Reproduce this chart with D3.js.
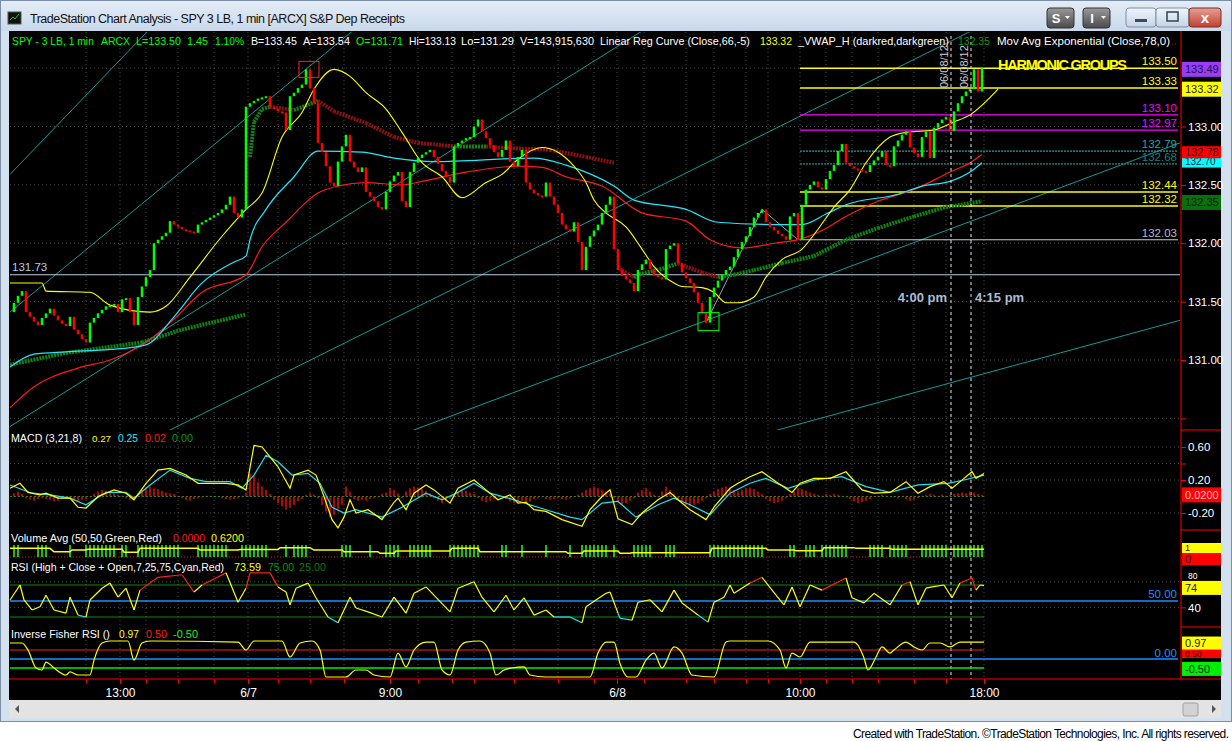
<!DOCTYPE html>
<html><head><meta charset="utf-8">
<script src="https://cdn.jsdelivr.net/npm/d3@7"></script>
<style>
html,body{margin:0;padding:0;background:#fff;overflow:hidden}
svg{display:block}
text{font-family:"Liberation Sans",Arial,sans-serif}
</style></head><body>
<svg id="c" width="1232" height="741"></svg>
<script>
// ================= DATA =================
// 3-line-break closes, one per bar (bar index = position in array)
const closes = [
131.49,131.55,131.59,131.41,131.37,131.33,131.30,131.36,131.40,131.44,
131.38,131.34,131.31,131.29,131.37,131.26,131.22,131.18,131.15,131.32,
131.36,131.40,131.43,131.46,131.47,131.48,131.41,131.52,131.53,131.41,
131.30,131.54,131.63,131.71,131.77,132.00,132.03,132.06,132.09,132.19,
132.16,132.14,132.12,132.11,132.10,132.09,132.16,132.18,132.20,132.22,
132.24,132.26,132.29,132.33,132.40,132.26,132.22,132.29,133.17,133.20,
133.22,133.24,133.25,133.26,133.17,133.15,133.13,133.12,132.97,133.26,
133.29,133.33,133.36,133.49,133.33,133.20,132.86,132.78,132.66,132.52,
132.49,132.70,132.83,132.93,132.70,132.65,132.61,132.65,132.44,132.40,
132.36,132.31,132.29,132.44,132.53,132.58,132.61,132.36,132.31,132.61,
132.69,132.73,132.76,132.78,132.80,132.74,132.68,132.62,132.57,132.52,
132.83,132.86,132.88,132.90,132.91,133.00,133.06,132.96,132.90,132.84,
132.78,132.74,132.80,132.88,132.70,132.66,132.74,132.80,132.52,132.46,
132.43,132.41,132.40,132.52,132.40,132.33,132.26,132.16,132.12,132.10,
132.18,132.01,131.77,131.97,132.06,132.11,132.16,132.26,132.33,132.40,
131.95,131.77,131.72,131.69,131.66,131.59,131.77,131.82,131.86,131.78,
131.73,131.71,131.69,131.95,131.98,132.00,131.83,131.75,131.70,131.66,
131.58,131.49,131.40,131.32,131.54,131.62,131.68,131.73,131.77,131.80,
131.88,131.95,132.01,132.06,132.14,132.22,132.26,132.29,132.18,132.14,
132.11,132.08,132.06,132.03,132.23,132.26,132.03,132.33,132.46,132.50,
132.53,132.48,132.46,132.55,132.62,132.67,132.79,132.85,132.69,132.66,
132.64,132.63,132.62,132.61,132.67,132.71,132.74,132.79,132.67,132.66,
132.83,132.88,132.93,132.96,132.82,132.77,132.74,132.91,132.96,132.73,
132.99,133.03,133.06,133.08,132.96,133.13,133.20,133.26,133.30,133.32,
133.49,133.30,133.50];
const firstOpen = 131.41;

// indicator curves on the price panel: [bar, price]
const linRegPts = [[-1,131.66],[7,131.66],[8,131.59],[19,131.58],[24,131.47],[34,131.41],[38,131.46],[44,131.71],[52,132.06],[58,132.29],[62,132.43],[67,132.91],[72,133.12],[75,133.32],[80,133.49],[84,133.43],[88,133.29],[93,133.15],[97,132.95],[102,132.69],[107,132.57],[112,132.39],[118,132.52],[122,132.59],[126,132.72],[132,132.82],[136,132.78],[140,132.66],[143,132.52],[145,132.37],[148,132.26],[153,132.14],[157,131.95],[160,131.80],[165,131.66],[167,131.63],[172,131.62],[175,131.58],[178,131.49],[181,131.49],[185,131.54],[188,131.71],[192,131.86],[197,131.95],[201,132.12],[205,132.31],[209,132.46],[213,132.69],[219,132.91],[223,132.95],[230,132.97],[235,133.04],[239,133.10],[246,133.32]];
const cyanAvgPts = [[-1,130.94],[5,131.05],[13,131.07],[24,131.09],[33,131.13],[40,131.37],[47,131.66],[55,131.84],[58,131.89],[59,132.03],[63,132.29],[70,132.57],[76,132.79],[87,132.78],[95,132.73],[105,132.70],[130,132.73],[138,132.67],[150,132.49],[155,132.37],[168,132.29],[176,132.18],[192,132.16],[197,132.16],[203,132.25],[208,132.33],[221,132.42],[227,132.49],[234,132.53],[239,132.61],[242,132.69]];
const emaPts = [[-1,130.59],[5,130.77],[16,130.93],[24,131.00],[33,131.15],[40,131.35],[47,131.58],[58,131.73],[62,131.97],[68,132.18],[76,132.43],[81,132.49],[88,132.52],[97,132.50],[102,132.53],[113,132.61],[126,132.66],[132,132.65],[138,132.57],[147,132.49],[157,132.26],[168,132.19],[174,132.03],[182,131.96],[190,132.00],[197,132.04],[202,132.11],[208,132.23],[216,132.36],[225,132.46],[234,132.61],[239,132.69],[242,132.76]];
const vwapDay1 = [[-1,130.96],[13,131.06],[32,131.15],[42,131.26],[58,131.39]];
const vwapDay2 = [[59,132.74],[60,133.04],[62,133.15],[64,133.17],[70,133.14],[76,133.22],[80,133.13],[88,133.03],[95,132.91],[101,132.86],[110,132.83],[118,132.83],[121,132.82],[134,132.80],[143,132.74],[150,132.69]];
const vwapDay3 = [[151,131.80],[152,131.77],[155,131.71],[157,131.74],[163,131.79],[166,131.83],[168,131.80],[172,131.75],[176,131.71],[180,131.73],[185,131.77],[192,131.83],[200,131.89],[208,132.03],[216,132.13],[225,132.23],[233,132.31],[242,132.36]];
const zigzagPts = [[173,131.32],[187,132.29],[196,132.03]];
// trend lines: two measured points each [bar, price]
const trendLines = [
  [[-1,132.59],[29,133.66]],
  [[-1,131.41],[79,133.66]],
  [[-1,130.43],[117,132.96]],
  [[39,130.40],[230,133.66]],
  [[101.5,130.42],[291.5,132.86]],
  [[193,130.42],[291.5,131.34]]
];
const levelPrices = [133.50,133.33,133.10,132.97,132.79,132.68,132.44,132.32,132.03];
const levelStartBar = 196.5;
const refPrice = 131.73;
const priceTicks = [131.00,131.50,132.00,132.50,133.00];
const priceGrid = [130.50,131.00,131.50,132.00,132.50,133.00,133.50];
const lastTags = ["133.49","133.32","132.70","132.78","132.35"];
const peakBar = 73, lowBar = 173;
const sessionMarks = [234.25,239.25];
const sessionLabels = ["4:00 pm","4:15 pm"];
const sessionDate = "06/08/12";

// x axis
const xMajorBars = [26.5,58.5,94,150.75,196.5,242.5];
const xMajorLabels = ["13:00","6/7","9:00","6/8","10:00","18:00"];
const xMinorBars = [18,33,41,50,66,74,82.5,101,109.5,115,125,136,145,157.5,168,175,183,188.5,203,209.5,216,225,233];

// MACD
const macdPts = [[-1,0.10],[1.5,0.16],[3.5,0.05],[6.5,0.02],[8,0.04],[11,-0.02],[14,-0.02],[16,-0.13],[18,-0.14],[21,0.0],[25,0.08],[28,0.04],[30,-0.04],[33,0.16],[36,0.32],[39,0.34],[43,0.26],[46,0.16],[53,0.16],[56,0.14],[58,0.08],[60,0.62],[62,0.60],[64,0.48],[66,0.36],[69,0.10],[70,0.26],[73.5,0.32],[75.5,0.26],[77.5,0.0],[79.5,-0.28],[81,-0.38],[82.5,-0.25],[84,-0.04],[85.5,-0.20],[88.5,-0.16],[92,-0.28],[95,-0.07],[96,-0.02],[98,-0.16],[100,0.04],[103,0.14],[105,0.08],[109,-0.08],[111,0.10],[115,0.20],[118,0.08],[121,-0.04],[124,0.02],[126,-0.08],[128,-0.07],[130,-0.16],[133,-0.18],[137,-0.28],[142,-0.36],[144,-0.16],[147,0.0],[149,0.08],[151,-0.27],[154.5,-0.34],[157,-0.20],[161,-0.04],[164,0.05],[166,-0.04],[169,-0.16],[173,-0.28],[175,-0.13],[179,0.10],[181,0.16],[184,0.24],[187,0.30],[190.5,0.18],[194.5,0.05],[196.5,0.16],[200,0.22],[204,0.22],[208,0.30],[212,0.08],[215,0.04],[219,0.05],[223,0.18],[226,0.04],[229,0.12],[232.5,0.18],[234.5,0.10],[237.5,0.22],[239.5,0.30],[240.5,0.22],[242.5,0.28]];
const macdSignalPts = [[-1,0.14],[4.5,0.04],[9,0.02],[14,-0.02],[18,-0.10],[23,0.05],[28,0.05],[30,-0.02],[34,0.14],[39,0.32],[44,0.22],[48,0.18],[54,0.18],[57,0.10],[60,0.26],[63,0.50],[66,0.42],[69.5,0.26],[73.5,0.28],[76.5,0.16],[79.5,-0.13],[82.5,-0.20],[85.5,-0.16],[92,-0.25],[97,-0.13],[103,0.04],[107,-0.04],[111,0.05],[115,0.16],[119,0.04],[125,-0.04],[133,-0.16],[139,-0.25],[142,-0.28],[147,-0.08],[151,-0.06],[155.5,-0.25],[161,-0.10],[165,-0.02],[169,-0.10],[174,-0.22],[179,0.04],[184,0.16],[188,0.22],[193.5,0.10],[200,0.20],[207,0.24],[213,0.12],[219,0.05],[226,0.14],[233.5,0.16],[237.5,0.20],[242.5,0.26]];
const macdHistBlocks = [
 [0,[0.04,0.06,0.03]],[3,[-0.02,-0.04,-0.05,-0.03,-0.02]],[8,[-0.03,-0.04,-0.06,-0.05,-0.03]],
 [13,[-0.02,-0.03,-0.05,-0.06,-0.04,-0.03,-0.01]],[20,[0.03,0.06,0.08,0.07,0.05,0.04]],
 [26,[0.02,0.01,-0.02,-0.04,-0.03]],[31,[0.04,0.08,0.11,0.12,0.10,0.09,0.07,0.05,0.04,0.03]],
 [41,[0.01,-0.02,-0.04,-0.05,-0.03,-0.02,-0.01]],[48,[0.01,0.01,0.00,-0.01,-0.02,-0.03,-0.04,-0.03]],
 [56,[-0.02,-0.01,0.05]],[59,[0.28,0.25,0.18,0.12,0.08]],
 [64,[0.03,-0.04,-0.08,-0.12,-0.16,-0.14,-0.10,-0.06,-0.03]],[73,[0.02,0.04,0.02,-0.02]],
 [77,[-0.10,-0.18,-0.25,-0.22,-0.15,-0.10]],[83,[0.12,0.06,-0.03,-0.05]],
 [87,[-0.04,-0.05,-0.03,-0.02,-0.01,0.03,0.05]],[94,[0.10,0.08,0.04,-0.02]],
 [98,[0.06,0.10,0.12,0.11,0.09,0.07,0.04]],[105,[-0.02,-0.05,-0.08,-0.06,-0.03,0.02]],
 [111,[0.05,0.08,0.07,0.05,0.03]],[116,[-0.02,-0.05,-0.07,-0.05,-0.03,-0.01,0.01]],
 [123,[-0.03,-0.06,-0.08,-0.06,-0.05,-0.07,-0.06,-0.03]],
 [131,[-0.02,-0.01,-0.03,-0.04,-0.03,-0.02,-0.03,-0.04,-0.02,-0.01]],[141,[0.02,0.05,0.08]],
 [144,[0.10,0.12,0.10,0.08,0.06,0.03,-0.02]],[151,[-0.06,-0.10,-0.08,-0.05,-0.02]],
 [156,[0.05,0.08,0.10,0.06,0.02]],[161,[0.01,0.06,0.12,0.08,0.03]],
 [166,[-0.03,-0.07,-0.10,-0.12,-0.10,-0.08,-0.05,-0.02]],[174,[0.03,0.06,0.09,0.11,0.12,0.10,0.08,0.06]],
 [182,[0.08,0.10,0.11,0.09,0.06,0.03]],[188,[-0.03,-0.06,-0.08,-0.07,-0.05,-0.02]],
 [194,[0.03,0.06,0.10,0.09,0.07,0.05,0.03]],[201,[0.02,0.01,0.03,0.02,0.03,0.02,0.01,0.00]],
 [209,[-0.03,-0.06,-0.08,-0.07,-0.05,-0.03,-0.01]],[216,[0.01,0.02,0.01,0.00,-0.01,-0.02,-0.01]],
 [223,[-0.03,-0.05,-0.04,-0.02,0.01]],[228,[0.02,0.03,0.02,0.01,0.02,0.01,0.02]],
 [235,[0.03,0.04,0.05,0.04,0.06,0.05,0.03,0.02]]
];
const macdTicks = [0.6,0.4,0.2,0,-0.2];
const macdTickLabels = ["0.60","","0.20","","-0.20"];

// Volume Avg
const volUpRanges = [[0,1],[6,8],[14,14],[18,25],[27,28],[31,41],[46,53],[57,63],[68,68],[70,73],[82,84],[89,89],[93,96],[99,104],[109,116],[122,123],[127,127],[133,133],[139,139],[142,148],[150,150],[155,159],[163,165],[174,180],[181,187],[194,195],[198,200],[202,208],[214,217],[219,223],[227,233],[235,242]];
const volAvgPts = [[-1,0.72],[9,0.72],[10,0.44],[14,0.44],[14.5,0.58],[18,0.58],[18.5,0.64],[27,0.64],[27.5,0.40],[31,0.40],[31.5,0.72],[46,0.72],[46.5,0.58],[56,0.58],[56.5,0.62],[66,0.62],[66.5,0.78],[74,0.78],[75,0.58],[82,0.58],[82.5,0.44],[91,0.44],[91.5,0.31],[95,0.31],[95.5,0.50],[109,0.50],[109.5,0.72],[116,0.72],[116.5,0.44],[138,0.44],[138.5,0.31],[142,0.31],[142.5,0.50],[151,0.50],[151.5,0.31],[154,0.31],[154.5,0.36],[174,0.36],[174.5,0.72],[188,0.72],[188.5,0.58],[195,0.58],[195.5,0.53],[202,0.53],[202.5,0.78],[210,0.78],[210.5,0.72],[219,0.72],[219.5,0.64],[242.5,0.64]];

// RSI
const rsiPts = [[-1,51.6],[1.5,75],[2.5,51.6],[4.5,36],[6.5,41],[8,59],[10,36],[13,31],[14,56],[16,28],[18,25],[19,51.6],[22,70],[24,78],[26,56],[28,70],[30,36],[31.5,67],[36,87],[42,91],[45,64],[47,75],[53,94],[56,48],[58,70],[59,94],[64,94],[66,72],[68,64],[69,44],[70.5,70],[73.5,78],[75.5,55],[78.5,25],[81,16],[84,56],[85.5,39],[88.5,33],[92,25],[95,56],[98,31],[100,62],[103,72],[109,33],[111,70],[115,80],[117,56],[120,33],[123,59],[125,36],[127.5,55],[130,28],[133,36],[135,25],[139,25],[142,16],[143,41],[148,62],[149,64],[151,31],[151.5,23],[154.5,20],[156,48],[159,52],[162,33],[165,67],[167,47],[171,28],[173.5,17],[175,48],[177.5,56],[179,75],[180,62],[184,78],[187,87],[190.5,59],[192.5,44],[194.5,72],[196.5,41],[199,75],[202,67],[208,86],[209.5,55],[212.5,47],[215,62],[219,44],[222,75],[224,80],[226,44],[228,70],[229.5,72],[232.5,75],[234.5,55],[236.5,78],[239.5,86],[240.5,67],[241.5,75],[242.5,74]];
const rsiLevels = [75,25];
// Inverse Fisher RSI
const ifPts = [[-1,0.89],[2,0.89],[3.5,0.5],[5.5,-0.5],[7,-0.61],[8,-0.17],[10,-0.5],[13,-0.89],[14,-0.72],[16,-0.89],[19,-0.89],[20,-0.06],[22,0.89],[24,1.0],[28.5,1.0],[30,-0.06],[32,0.89],[34,1.0],[56,0.94],[58,0.5],[60,1.0],[67,1.0],[69,0.11],[71.5,0.89],[74.5,1.0],[76.5,0.5],[78,-1.0],[83,-1.0],[85.5,-0.61],[88,-0.61],[90,-0.89],[94,-1.0],[96,0.33],[98,-0.44],[100,0.5],[103,0.94],[105,0.94],[107,-0.61],[109,-0.89],[111,0.5],[113,0.94],[116.5,1.0],[119,0.33],[120.5,-0.89],[122.5,-0.61],[124.5,-0.5],[127.5,-0.44],[129,-0.89],[133,-1.0],[144,-1.0],[146,0.33],[148,0.94],[150,0.94],[151.5,-0.25],[153.5,-1.0],[155.5,-1.0],[158,-0.06],[160,0.33],[162,-0.5],[165,0.67],[167,0.33],[169.5,-0.89],[175,-1.0],[178,0.94],[179,1.0],[188.5,1.0],[191.5,0.5],[193,-0.5],[194.5,0.33],[196.5,0.11],[199,0.94],[210,0.94],[212.5,0.06],[213.5,-0.61],[215.5,0.11],[217,0.67],[219,0.33],[220,0.5],[223,0.94],[225,0.67],[227,0.5],[229,0.89],[231.5,0.89],[234,0.67],[236.5,0.94],[242.5,0.94]];

// ================= LAYOUT / STYLE =================
const svg = d3.select('#c');
const defs = svg.append('defs');
function grad(id, a, b){ const g=defs.append('linearGradient').attr('id',id).attr('x1',0).attr('y1',0).attr('x2',0).attr('y2',1);
  g.append('stop').attr('offset','0').attr('stop-color',a); g.append('stop').attr('offset','1').attr('stop-color',b); }
grad('tb','#e4edf7','#c9d9eb'); grad('btnDark','#9a9a9a','#4a4a4a'); grad('btnLight','#f0f5fb','#c5d4e6'); grad('btnRed','#e8a096','#c13f2f');
defs.append('clipPath').attr('id','pclip').append('rect').attr('x',10).attr('y',32).attr('width',1170).attr('height',398);

// window frame
svg.append('rect').attr('width',1232).attr('height',741).attr('fill','#d3e1ef');
svg.append('rect').attr('width',1232).attr('height',31).attr('fill','url(#tb)');
svg.append('rect').attr('x',0).attr('y',722).attr('width',1232).attr('height',19).attr('fill','#ffffff');
svg.append('rect').attr('x',0.5).attr('y',0.5).attr('width',1231).attr('height',721).attr('fill','none').attr('stroke','#7b8ea6');
svg.append('rect').attr('x',8).attr('y',12).attr('width',13).attr('height',12).attr('fill','#111').attr('stroke','#555');
svg.append('path').attr('d','M10,20 L13,17 L15,19 L19,14').attr('stroke','#2c2').attr('fill','none');
svg.append('text').attr('x',30).attr('y',23).attr('font-family','"Noto Sans","DejaVu Sans",sans-serif')
  .attr('font-size',12.5).attr('fill','#111').attr('textLength',375)
  .text('TradeStation Chart Analysis - SPY 3 LB, 1 min [ARCX] S&P Dep Receipts');
[[1047,'S'],[1083,'I']].forEach(([bx,t])=>{
  svg.append('rect').attr('x',bx).attr('y',8).attr('width',27).attr('height',20).attr('rx',3).attr('fill','url(#btnDark)').attr('stroke','#333');
  svg.append('text').attr('x',bx+9).attr('y',23).attr('font-size',13).attr('font-weight','bold').attr('fill','#fff').attr('text-anchor','middle').text(t);
  svg.append('path').attr('d',`M${bx+18},16 l5,0 l-2.5,3 z`).attr('fill','#fff');
});
svg.append('rect').attr('x',1126).attr('y',8).attr('width',30).attr('height',19).attr('rx',3).attr('fill','url(#btnLight)').attr('stroke','#7d8fa7');
svg.append('rect').attr('x',1135).attr('y',19).attr('width',12).attr('height',3).attr('fill','#3b4a60');
svg.append('rect').attr('x',1156).attr('y',8).attr('width',33).attr('height',19).attr('rx',3).attr('fill','url(#btnLight)').attr('stroke','#7d8fa7');
svg.append('rect').attr('x',1167).attr('y',12).attr('width',11).attr('height',9).attr('fill','none').attr('stroke','#3b4a60').attr('stroke-width',1.6);
svg.append('rect').attr('x',1189).attr('y',8).attr('width',32).attr('height',19).attr('rx',3).attr('fill','url(#btnRed)').attr('stroke','#7a2b22');
svg.append('text').attr('x',1205).attr('y',23).attr('text-anchor','middle').attr('font-size',15).attr('font-weight','bold').attr('fill','#fff').text('x');

svg.append('rect').attr('x',9).attr('y',31).attr('width',1212).attr('height',669).attr('fill','#000');
svg.append('rect').attr('x',9).attr('y',700).attr('width',1212).attr('height',18).attr('fill','#e3e3e3');
svg.append('path').attr('d','M19,705 L15,709 L19,713 z').attr('fill','#555');
svg.append('rect').attr('x',1183).attr('y',703).attr('width',15).attr('height',13).attr('rx',2).attr('fill','#d2d2d2').attr('stroke','#a0a0a0');
svg.append('path').attr('d','M1212,705 L1216,709 L1212,713 z').attr('fill','#555');
svg.append('text').attr('x',1229).attr('y',738).attr('text-anchor','end').attr('font-size',12).attr('fill','#000')
  .attr('textLength',376).text('Created with TradeStation. ©TradeStation Technologies, Inc. All rights reserved.');

// scales
const x = d3.scaleLinear().domain([0, closes.length-1]).range([14, 982]);
const yP = d3.scaleLinear().domain([130.40, 133.81]).range([430, 32]);
const yM = d3.scaleLinear().domain([-0.406, 0.806]).range([530, 430]);
const yV = d3.scaleLinear().domain([0, 1]).range([557, 545]);
const yR = d3.scaleLinear().domain([0, 100]).range([633, 569]);
const yI = d3.scaleLinear().domain([-1, 1]).range([677, 641]);
const XL = 10, XR = 1180, AX = 1181;

const gridCol = '#4d4d4d';
const allTicks = xMajorBars.concat(xMinorBars);
svg.append('g').selectAll('line').data(allTicks).join('line')
  .attr('x1',d=>x(d)).attr('x2',d=>x(d)).attr('y1',32).attr('y2',679)
  .attr('stroke',gridCol).attr('stroke-dasharray','1,3');
svg.append('g').selectAll('line').data(priceGrid).join('line')
  .attr('x1',XL).attr('x2',XR).attr('y1',d=>yP(d)).attr('y2',d=>yP(d))
  .attr('stroke',gridCol).attr('stroke-dasharray','1,3');
svg.append('g').selectAll('line').data(macdTicks.filter(d=>d!==0)).join('line')
  .attr('x1',XL).attr('x2',XR).attr('y1',d=>yM(d)).attr('y2',d=>yM(d))
  .attr('stroke',gridCol).attr('stroke-dasharray','1,3');
svg.append('g').selectAll('line').data([80,40]).join('line')
  .attr('x1',XL).attr('x2',XR).attr('y1',d=>yR(d)).attr('y2',d=>yR(d))
  .attr('stroke',gridCol).attr('stroke-dasharray','1,3');

// ---------- price panel ----------
const pg = svg.append('g').attr('clip-path','url(#pclip)');
const lineGen = (ys, curve) => d3.line().x(d=>x(d[0])).y(d=>ys(d[1])).curve(curve||d3.curveLinear);
pg.append('g').selectAll('path').data(trendLines).join('path')
  .attr('d', d=>{
    const [a,b]=d, t0=-3, t1=4;
    const p=t=>[a[0]+(b[0]-a[0])*t, a[1]+(b[1]-a[1])*t];
    return lineGen(yP)([p(t0),p(t1)]);
  })
  .attr('stroke','#139b9b').attr('stroke-width',1).attr('fill','none');
pg.append('line').attr('x1',XL).attr('x2',XR).attr('y1',yP(refPrice)).attr('y2',yP(refPrice)).attr('stroke','#b9cce0').attr('stroke-width',1.2);
svg.append('text').attr('x',12).attr('y',yP(refPrice)-4).attr('font-size',11.5).attr('fill','#b9cce0').text(refPrice.toFixed(2));
const levelStyle = [
  {c:'#ffff00',w:1.5,d:null},{c:'#ffff00',w:1.5,d:null},{c:'#ff00ff',w:1.2,d:null},{c:'#ff00ff',w:1.2,d:null},
  {c:'#1aa5a5',w:1.2,d:'2,1'},{c:'#1a8f8f',w:1.2,d:'2,1'},{c:'#ffff00',w:1.5,d:null},{c:'#ffff00',w:1.5,d:null},{c:'#c8cdd6',w:1.2,d:null}];
const levelTextCol = ['#ffff00','#ffff00','#ff00ff','#ff00ff','#2aa0a8','#1a7f80','#ffff00','#ffff00','#b4bccc'];
levelPrices.forEach((v,i)=>{
  const s=levelStyle[i];
  pg.append('line').attr('x1',x(levelStartBar)).attr('x2',XR-2).attr('y1',yP(v)).attr('y2',yP(v))
    .attr('stroke',s.c).attr('stroke-width',s.w).attr('stroke-dasharray',s.d);
  svg.append('text').attr('x',1177).attr('y',yP(v)-3).attr('text-anchor','end').attr('font-size',11.5).attr('fill',levelTextCol[i]).text(v.toFixed(2));
});
pg.append('path').attr('d',lineGen(yP)(zigzagPts)).attr('stroke','#a0a0a0').attr('fill','none').attr('stroke-width',1);
[vwapDay1,vwapDay2,vwapDay3].forEach(sess=>{
  for(let k=1;k<sess.length;k++){
    const a=sess[k-1], b=sess[k];
    pg.append('path').attr('d',lineGen(yP)([a,b]))
      .attr('stroke', b[1]>=a[1]?'#0e850e':'#8e1010').attr('stroke-width',4).attr('stroke-dasharray','2,1').attr('fill','none');
  }
});
pg.append('path').attr('d',lineGen(yP,d3.curveMonotoneX)(emaPts)).attr('stroke','#ff1a1a').attr('stroke-width',1.2).attr('fill','none');
pg.append('path').attr('d',lineGen(yP,d3.curveMonotoneX)(cyanAvgPts)).attr('stroke','#22e8ff').attr('stroke-width',1.2).attr('fill','none');
pg.append('path').attr('d',lineGen(yP,d3.curveMonotoneX)(linRegPts)).attr('stroke','#ffff00').attr('stroke-width',1.1).attr('fill','none');
const bars = closes.map((c,i)=>({i, o: i ? closes[i-1] : firstOpen, c}));
pg.append('g').selectAll('rect').data(bars).join('rect')
  .attr('x',d=>x(d.i)-1.25).attr('width',2.5)
  .attr('y',d=>Math.min(yP(d.o),yP(d.c)))
  .attr('height',d=>Math.max(2,Math.abs(yP(d.o)-yP(d.c))))
  .attr('fill',d=>d.c>=d.o?'#00ff00':'#ff0000');
pg.append('rect').attr('x',x(peakBar)-7).attr('y',yP(closes[peakBar])-8).attr('width',20).attr('height',16).attr('fill','none').attr('stroke','#ff2020');
pg.append('rect').attr('x',x(lowBar)-8).attr('y',yP(closes[lowBar])-10).attr('width',21).attr('height',18).attr('fill','none').attr('stroke','#00ff00');
svg.append('text').attr('x',998).attr('y',70).attr('font-size',14.5).attr('font-weight','bold').attr('fill','#ffff00').attr('textLength',129).text('HARMONIC GROUPS');

sessionMarks.forEach((b,i)=>{
  svg.append('line').attr('x1',x(b)).attr('x2',x(b)).attr('y1',36).attr('y2',679).attr('stroke','#e0e6f0').attr('stroke-dasharray','3,3');
  svg.append('text').attr('transform',`translate(${x(b)-3},88) rotate(-90)`).attr('font-size',11).attr('fill','#c8ccd4').text(sessionDate);
});
svg.append('text').attr('x',x(sessionMarks[0])-4).attr('y',302).attr('text-anchor','end').attr('font-size',13).attr('font-weight','bold').attr('fill','#a9bdd8').text(sessionLabels[0]);
svg.append('text').attr('x',x(sessionMarks[1])+4).attr('y',302).attr('font-size',13).attr('font-weight','bold').attr('fill','#a9bdd8').text(sessionLabels[1]);

// ---------- MACD ----------
const hist = [];
macdHistBlocks.forEach(([s,vals])=>vals.forEach((v,k)=>hist.push([s+k,v])));
svg.append('line').attr('x1',XL).attr('x2',984).attr('y1',yM(0)).attr('y2',yM(0)).attr('stroke','#0a9a0a').attr('stroke-dasharray','2,2');
svg.append('g').selectAll('line').data(hist).join('line')
  .attr('x1',d=>x(d[0])).attr('x2',d=>x(d[0])).attr('y1',yM(0)).attr('y2',d=>yM(d[1]))
  .attr('stroke','#ff1010').attr('stroke-width',1.3);
svg.append('path').attr('d',lineGen(yM)(macdSignalPts)).attr('stroke','#20e0f0').attr('stroke-width',1.2).attr('fill','none');
svg.append('path').attr('d',lineGen(yM)(macdPts)).attr('stroke','#ffff00').attr('stroke-width',1.2).attr('fill','none');

// ---------- Volume Avg ----------
const volBars = [];
volUpRanges.forEach(([a,b])=>{ for(let i=a;i<=b;i++) volBars.push(i); });
svg.append('line').attr('x1',XL).attr('x2',984).attr('y1',yV(0)).attr('y2',yV(0)).attr('stroke','#e01010').attr('stroke-dasharray','1,2');
svg.append('g').selectAll('line').data(volBars).join('line')
  .attr('x1',d=>x(d)).attr('x2',d=>x(d)).attr('y1',yV(0)).attr('y2',yV(1))
  .attr('stroke','#22ff22').attr('stroke-width',1.5);
svg.append('path').attr('d',lineGen(yV)(volAvgPts)).attr('stroke','#ffff00').attr('stroke-width',1.5).attr('fill','none');

// ---------- RSI ----------
rsiLevels.forEach(v=>svg.append('line').attr('x1',XL).attr('x2',984).attr('y1',yR(v)).attr('y2',yR(v)).attr('stroke','#0c8a0c').attr('stroke-width',1));
svg.append('line').attr('x1',XL).attr('x2',1178).attr('y1',yR(50)).attr('y2',yR(50)).attr('stroke','#1e8fff').attr('stroke-width',1.6);
for(let k=1;k<rsiPts.length;k++){
  const a=rsiPts[k-1], b=rsiPts[k], m=(a[1]+b[1])/2;
  svg.append('path').attr('d',lineGen(yR)([a,b])).attr('fill','none').attr('stroke-width',1.2)
    .attr('stroke', m>76 ? '#ff2020' : (m<28 ? '#20e8ff' : '#ffff00'));
}
svg.append('text').attr('x',1177).attr('y',yR(50)-3).attr('text-anchor','end').attr('font-size',11.5).attr('fill','#1e8fff').text('50.00');

// ---------- Inverse Fisher ----------
svg.append('line').attr('x1',XL).attr('x2',984).attr('y1',yI(0.5)).attr('y2',yI(0.5)).attr('stroke','#ff1a1a');
svg.append('line').attr('x1',XL).attr('x2',984).attr('y1',yI(-0.5)).attr('y2',yI(-0.5)).attr('stroke','#00ee00').attr('stroke-width',1.3);
svg.append('line').attr('x1',XL).attr('x2',1178).attr('y1',yI(0)).attr('y2',yI(0)).attr('stroke','#1e8fff').attr('stroke-width',1.6);
svg.append('path').attr('d',lineGen(yI,d3.curveMonotoneX)(ifPts)).attr('stroke','#ffff00').attr('stroke-width',1.2).attr('fill','none');
svg.append('text').attr('x',1177).attr('y',yI(0)-2).attr('text-anchor','end').attr('font-size',11.5).attr('fill','#1e8fff').text('0.00');

// ---------- axes / separators ----------
svg.append('line').attr('x1',AX).attr('x2',AX).attr('y1',31).attr('y2',679).attr('stroke','#ff0000');
svg.append('line').attr('x1',9).attr('x2',1221).attr('y1',679).attr('y2',679).attr('stroke','#ff0000');
[430,530,558,627].forEach(yy=>svg.append('line').attr('x1',AX).attr('x2',1221).attr('y1',yy).attr('y2',yy).attr('stroke','#ff0000'));

function styleAxis(g){
  g.select('.domain').remove();
  g.selectAll('line').attr('stroke','#ff0000');
  g.selectAll('text').attr('fill','#ffffff').attr('font-size',11.5).attr('font-family','"Liberation Sans",Arial,sans-serif');
}
svg.append('g').attr('transform',`translate(${AX},0)`)
  .call(d3.axisRight(yP).tickValues(priceGrid).tickSize(5).tickPadding(2)
    .tickFormat(d=>priceTicks.includes(d)?d3.format('.2f')(d):''))
  .call(styleAxis);
function tag(yy, h, txt, bgc, fg, fs){
  svg.append('rect').attr('x',1182).attr('y',yy-h/2).attr('width',39).attr('height',h).attr('fill',bgc);
  svg.append('text').attr('x',1185).attr('y',yy+(fs||11)*0.36).attr('font-size',fs||11).attr('fill',fg).text(txt);
}
const tagStyle = {"133.49":['#9a3cf5','#1a1050'],"133.32":['#ffff00','#222'],"132.78":['#ff0000','#300'],"132.70":['#00ffff','#024'],"132.35":['#0a700a','#021']};
lastTags.forEach(v=>{ const s=tagStyle[v]; tag(yP(+v), v==="132.70"||v==="132.78"?12:15, v, s[0], s[1], v==="132.70"?10:11); });
svg.append('g').attr('transform',`translate(${AX},0)`)
  .call(d3.axisRight(yM).tickValues(macdTicks).tickSize(5).tickPadding(2).tickFormat((d,i)=>macdTickLabels[i]))
  .call(styleAxis);
tag(yM(0.02), 15, '0.0200', '#ff0000', '#ffc0c0', 11);
tag(548, 10, '1', '#ffff00', '#222', 9);
tag(559, 12, '0', '#ff0000', '#300', 11);
const rsiAx = svg.append('g').attr('transform',`translate(${AX},0)`)
  .call(d3.axisRight(yR).tickValues([80,40]).tickSize(5).tickPadding(2).tickFormat(d3.format('d')))
  .call(styleAxis);
rsiAx.selectAll('text').filter(d=>d===80).attr('font-size',8.5).attr('dy','-0.35em');
tag(yR(73.59)+2, 14, '74', '#ffff00', '#222', 11);
tag(yI(0.5)+3.5, 9, '0.50', '#ff0000', '#300', 8.5);
tag(yI(0.97)+1.5, 13, '0.97', '#ffff00', '#222', 11);
tag(yI(-0.55), 14, '-0.50', '#00ee00', '#021', 11);

svg.append('g').attr('transform','translate(0,679)')
  .call(d3.axisBottom(x).tickValues(xMinorBars).tickSize(4).tickFormat(''))
  .call(styleAxis);
svg.append('g').attr('transform','translate(0,679)')
  .call(d3.axisBottom(x).tickValues(xMajorBars).tickSize(5).tickPadding(4).tickFormat((d,i)=>xMajorLabels[i]))
  .call(styleAxis).selectAll('text').attr('font-size',12);

// ---------- header & panel labels (text, left x, right x, colour) ----------
const G='#00ff00', Wt='#ffffff', Y='#ffff00', DG='#0a9a0a', R='#ff1a1a', C='#22e8ff';
const header = [["SPY - 3 LB, 1 min",12,94,G],["ARCX",101,130,G],["L=133.50",136,181,G],["1.45",187,208,G],["1.10%",215,244,G],
 ["B=133.45",251,297,Wt],["A=133.54",303,350,Wt],["O=131.71",356,403,G],["Hi=133.13",409,456,Wt],["Lo=131.29",461,514,Wt],
 ["V=143,915,630",520,594,Wt],["Linear Reg Curve (Close,66,-5)",600,750,Wt],["133.32",760,792,Y],
 ["_VWAP_H (darkred,darkgreen)",798,949,Wt],["132.35",958,990,DG],["Mov Avg Exponential (Close,78,0)",997,1170,Wt]];
// fit each label's font size so its natural width matches the span it occupies in the reference
function label(t,x0,x1,c,yy){
  const el = svg.append('text').attr('x',x0).attr('y',yy).attr('font-size',12).attr('fill',c).text(t);
  const w = el.node().getComputedTextLength();
  const fs = Math.min(12.5, 12*(x1-x0)/w);
  el.attr('font-size', fs.toFixed(2));
}
header.forEach(([t,a,b,c])=>label(t,a,b,c,45));
svg.append('line').attr('x1',1172).attr('x2',1178).attr('y1',44).attr('y2',44).attr('stroke','#c00').attr('stroke-dasharray','1,2');
const panelLabels = [
 [442,[["MACD (3,21,8)",11,82,Wt],["0.27",92,111,Y],["0.25",118,138,C],["0.02",145,166,R],["0.00",172,193,DG]]],
 [542,[["Volume Avg (50,50,Green,Red)",11,162,Wt],["0.0000",173,205,R],["0.6200",211,244,Y]]],
 [571,[["RSI (High + Close + Open,7,25,75,Cyan,Red)",11,224,Wt],["73.59",234,261,Y],["75.00",268,294,DG],["25.00",299,326,'#0a7a0a']]],
 [638,[["Inverse Fisher RSI ()",11,110,Wt],["0.97",119,139,Y],["0.50",146,167,R],["-0.50",173,198,'#22ee22']]]
];
panelLabels.forEach(([yy,items])=>items.forEach(([t,a,b,c])=>label(t,a,b,c,yy)));
</script></body></html>
